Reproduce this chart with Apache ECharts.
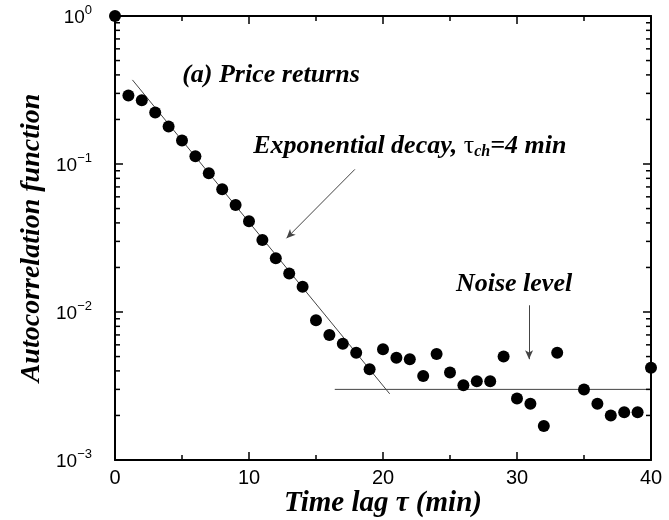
<!DOCTYPE html>
<html>
<head>
<meta charset="utf-8">
<script src="https://cdn.jsdelivr.net/npm/echarts@6/dist/echarts.min.js"></script>
<style>html,body{margin:0;padding:0;background:#fff}#c{width:669px;height:520px}</style>
</head>
<body>
<div id="c"></div>
<script>
// ---- data ----
const lags = [0,1,2,3,4,5,6,7,8,9,10,11,12,13,14,15,16,17,18,19,20,21,22,23,24,25,26,27,28,29,30,31,32,33,35,36,37,38,39,40];
const acf  = [1,0.29,0.27,0.223,0.179,0.144,0.113,0.0865,0.0675,0.0529,0.041,0.0306,0.0231,0.0182,0.0148,0.0088,0.0070,0.0061,0.0053,0.0041,0.0056,0.0049,0.0048,0.0037,0.0052,0.0039,0.0032,0.0034,0.0034,0.0050,0.0026,0.0024,0.0017,0.0053,0.0030,0.0024,0.0020,0.0021,0.0021,0.0042];
const fitLine = [[1.3, 0.37], [20.5, 0.0028]];
const noiseLine = [[16.4, 0.003], [40, 0.003]];
const arrowDecay = [[17.9, 0.092], [12.8, 0.0315]];
const arrowNoise = [[30.9, 0.0111], [30.9, 0.0048]];
const xTicks = [0, 10, 20, 30, 40];
const yDecades = [1e-3, 1e-2, 1e-1, 1];
const yMinor = [];
[1e-3, 1e-2, 1e-1].forEach(d => { for (let k = 2; k <= 9; k++) yMinor.push(+(k * d).toPrecision(3)); });
const annotations = [
  { pos: [11.64, 0.40], text: '(a) Price returns' },
  { pos: [22.0, 0.132], text: 'Exponential decay, {g|τ}{sub|ch}=4 min' },
  { pos: [29.78, 0.0155], text: 'Noise level' }
];

const serif = '"Liberation Serif", "DejaVu Serif", serif';
const sans = '"Liberation Sans", Arial, sans-serif';
const chart = echarts.init(document.getElementById('c'), null, { renderer: 'canvas' });

function supLabel(v) {
  const e = Math.round(Math.log10(v));
  return '{b|10}{sup|' + (e < 0 ? '−' + (-e) : e) + '}';
}

const axisLineStyle = { color: '#000', width: 2 };
const xBase = {
  type: 'value', min: 0, max: 40, interval: 10,
  axisLine: { show: true, onZero: false, lineStyle: axisLineStyle },
  axisTick: { show: true, inside: true, length: 8, lineStyle: { color: '#000', width: 1.5 } },
  minorTick: { show: true, splitNumber: 2, length: 5, lineStyle: { color: '#000', width: 1.5 } },
  splitLine: { show: false }
};
const yBase = {
  type: 'log', logBase: 10, min: 1e-3, max: 1,
  axisLine: { show: true, onZero: false, lineStyle: axisLineStyle },
  axisTick: { show: true, inside: true, length: 8, lineStyle: { color: '#000', width: 1.5 } },
  splitLine: { show: false }
};

chart.setOption({
  animation: false,
  backgroundColor: '#fff',
  grid: { left: 115, right: 18, top: 16, bottom: 60, containLabel: false, outerBoundsMode: 'none' },
  xAxis: [
    Object.assign({}, xBase, {
      position: 'bottom',
      axisLabel: { show: true, margin: 8, color: '#000', fontFamily: sans, fontSize: 20,
        formatter: v => (xTicks.indexOf(v) >= 0 ? String(v) : '') },
      name: 'Time lag τ (min)', nameLocation: 'middle', nameGap: 29, nameMoveOverlap: false,
      nameTextStyle: { fontFamily: serif, fontStyle: 'italic', fontWeight: 'bold', fontSize: 29, color: '#000' }
    }),
    Object.assign({}, xBase, { position: 'top', axisLabel: { show: false } })
  ],
  yAxis: [
    Object.assign({}, yBase, {
      position: 'left',
      axisLabel: { show: true, margin: 23, color: '#000', fontFamily: sans, fontSize: 19,
        formatter: supLabel,
        rich: {
          b: { fontFamily: sans, fontSize: 19, color: '#000', padding: [4, 0, 0, 0] },
          sup: { fontFamily: sans, fontSize: 13, color: '#000', padding: [0, 0, 12, 0] }
        } },
      name: 'Autocorrelation function', nameLocation: 'middle', nameGap: 69, nameRotate: 90, nameMoveOverlap: false,
      nameTextStyle: { fontFamily: serif, fontStyle: 'italic', fontWeight: 'bold', fontSize: 28, color: '#000' }
    }),
    Object.assign({}, yBase, { position: 'right', axisLabel: { show: false } })
  ],
  series: [
    {
      type: 'line', data: fitLine, xAxisIndex: 0, yAxisIndex: 0,
      symbol: 'none', lineStyle: { color: '#444', width: 1 }, silent: true, z: 2
    },
    {
      type: 'line', data: noiseLine, xAxisIndex: 0, yAxisIndex: 0,
      symbol: 'none', lineStyle: { color: '#444', width: 1 }, silent: true, z: 2
    },
    {
      type: 'line', data: [], xAxisIndex: 0, yAxisIndex: 0, symbol: 'none', z: 3,
      markLine: {
        silent: true, symbol: ['none', 'arrow'], symbolSize: [6, 9],
        label: { show: false },
        lineStyle: { color: '#444', width: 1, type: 'solid' },
        data: [
          [{ coord: arrowDecay[0] }, { coord: arrowDecay[1] }],
          [{ coord: arrowNoise[0] }, { coord: arrowNoise[1] }]
        ]
      }
    },
    {
      type: 'scatter', data: lags.map((x, i) => [x, acf[i]]), xAxisIndex: 0, yAxisIndex: 0,
      symbol: 'circle', symbolSize: 12, itemStyle: { color: '#000', opacity: 1 }, clip: false, z: 5
    },
    {
      type: 'custom', xAxisIndex: 0, yAxisIndex: 0, z: 4, silent: true,
      data: yMinor.map(v => [0, v]),
      renderItem: function (params, api) {
        const v = api.value(1);
        const l = api.coord([0, v]);
        const r = api.coord([40, v]);
        const st = { stroke: '#000', lineWidth: 1.5 };
        return { type: 'group', children: [
          { type: 'line', shape: { x1: l[0], y1: l[1], x2: l[0] + 5, y2: l[1] }, style: st },
          { type: 'line', shape: { x1: r[0], y1: r[1], x2: r[0] - 5, y2: r[1] }, style: st }
        ] };
      }
    },
    {
      type: 'scatter', xAxisIndex: 0, yAxisIndex: 0, symbolSize: 0, silent: true, z: 6,
      itemStyle: { opacity: 1 },
      data: annotations.map(a => ({ value: a.pos, label: { formatter: a.text } })),
      label: {
        show: true, position: 'inside', color: '#000',
        fontFamily: serif, fontStyle: 'italic', fontWeight: 'bold', fontSize: 26,
        rich: {
          g: { fontFamily: serif, fontStyle: 'normal', fontWeight: 'normal', fontSize: 26, color: '#000' },
          sub: { fontFamily: serif, fontStyle: 'italic', fontWeight: 'bold', fontSize: 16, color: '#000', padding: [12, 0, 0, 0] }
        }
      }
    }
  ]
});
</script>
</body>
</html>
